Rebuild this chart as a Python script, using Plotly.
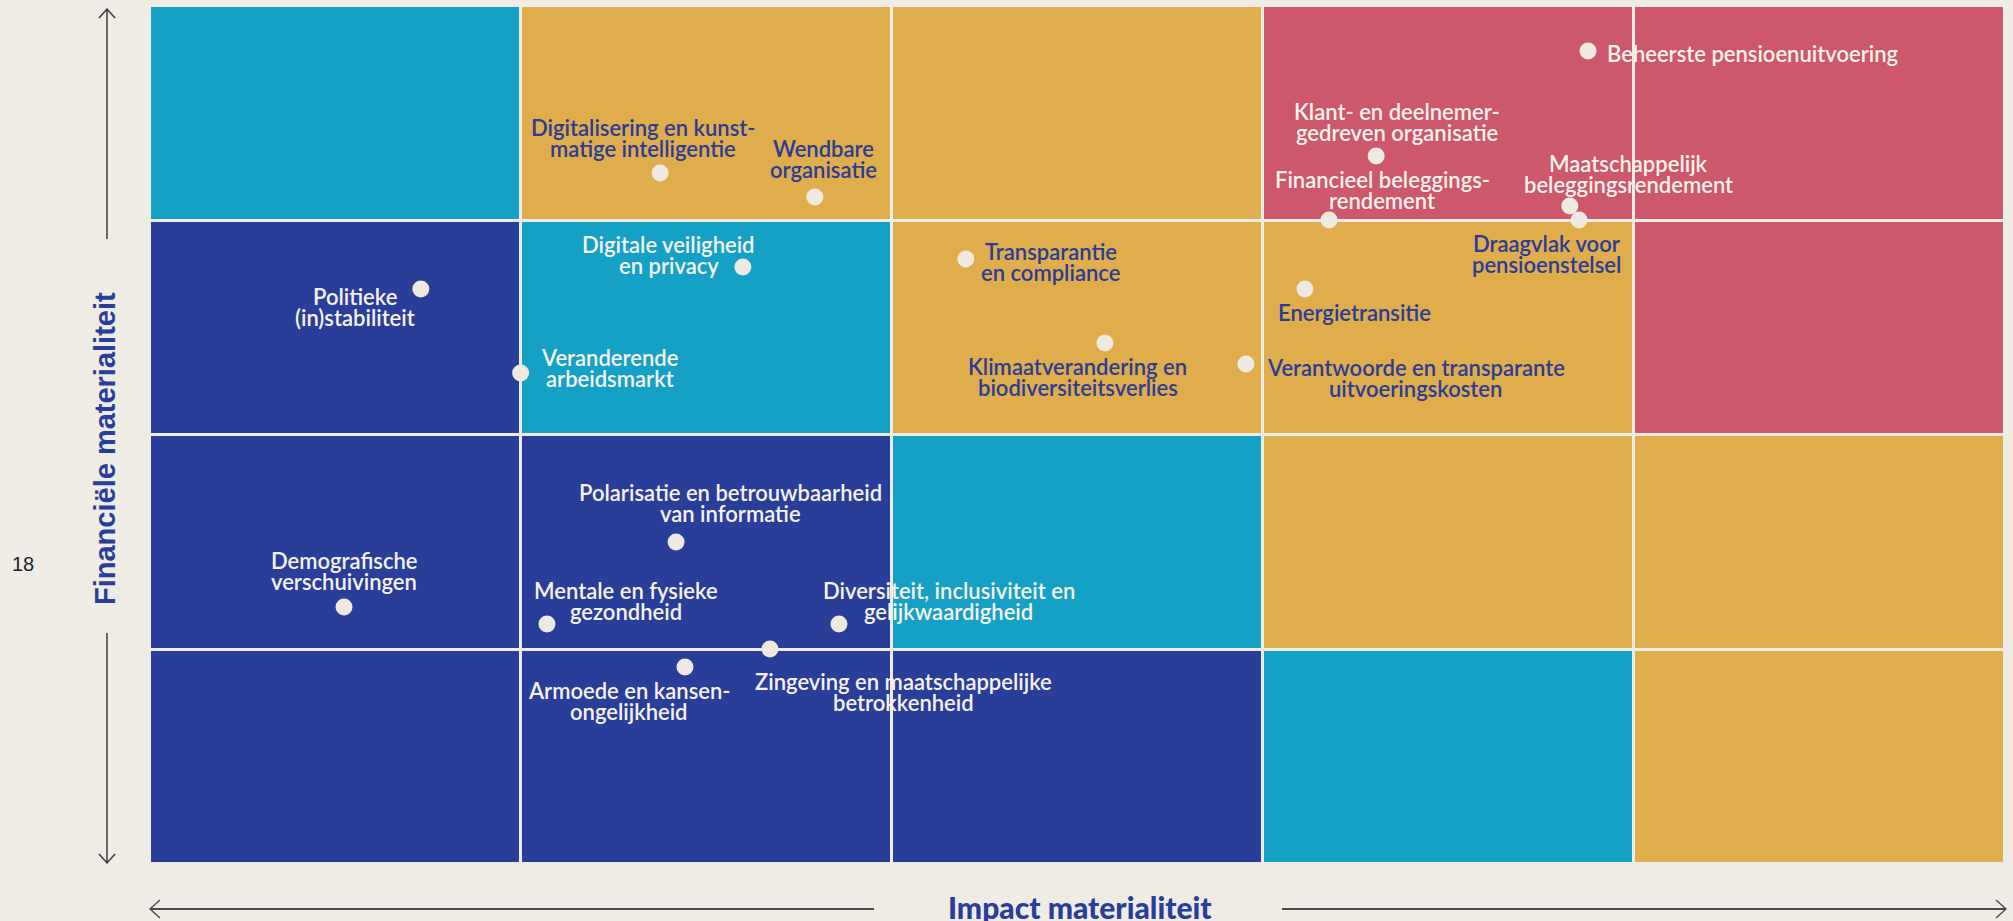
import plotly.graph_objects as go

W, H = 2013, 921
ML, MR, MT, MB = 150, 8, 6, 57

NAVY = "#283E98"
TEAL = "#15A1C5"
GOLD = "#DFAD4C"
RED = "#CD576B"
BG = "#EFECE6"
TXT_LIGHT = "#F6F2EB"
TXT_DARK = "#2A3C96"

# matrix cells (0 navy, 1 teal, 2 gold, 3 red), bottom row first
impact_cols = [0.5, 1.5, 2.5, 3.5, 4.5]
finance_rows = [0.5, 1.5, 2.5, 3.5]
cell_class = [
    [0, 0, 0, 1, 2],
    [0, 0, 1, 2, 2],
    [0, 1, 2, 2, 3],
    [1, 2, 2, 3, 3],
]

topics = [
    "Politieke\n(in)stabiliteit",
    "Veranderende\narbeidsmarkt",
    "Digitalisering en kunst-\nmatige intelligentie",
    "Wendbare\norganisatie",
    "Digitale veiligheid\nen privacy",
    "Transparantie\nen compliance",
    "Klimaatverandering en\nbiodiversiteitsverlies",
    "Verantwoorde en transparante\nuitvoeringskosten",
    "Energietransitie",
    "Financieel beleggings-\nrendement",
    "Klant- en deelnemer-\ngedreven organisatie",
    "Beheerste pensioenuitvoering",
    "Maatschappelijk\nbeleggingsrendement",
    "Draagvlak voor\npensioenstelsel",
    "Demografische\nverschuivingen",
    "Polarisatie en betrouwbaarheid\nvan informatie",
    "Mentale en fysieke\ngezondheid",
    "Diversiteit, inclusiviteit en\ngelijkwaardigheid",
    "Zingeving en maatschappelijke\nbetrokkenheid",
    "Armoede en kansen-\nongelijkheid",
]
impact = [0.730, 0.999, 1.375, 1.792, 1.598, 2.199, 2.574, 2.954, 3.113, 3.178,
          3.305, 3.876, 3.827, 3.852, 0.523, 1.418, 1.070, 1.857, 1.671, 1.442]
financial = [2.681, 2.289, 3.221, 3.110, 2.783, 2.821, 2.429, 2.331, 2.681, 3.002,
             3.301, 3.790, 3.068, 3.002, 1.198, 1.501, 1.119, 1.119, 1.002, 0.918]

# label placement relative to the dot: (dx px, dy px of first line, anchor, dark text)
label_pos = [
    (-66, 8, "center", False),
    (89, -16, "center", False),
    (-17, -46, "center", True),
    (9, -48, "center", True),
    (-74, -23, "center", False),
    (85, -7, "center", True),
    (-27, 24, "center", True),
    (170, 3, "center", True),
    (50, 24, "center", True),
    (53, -41, "center", False),
    (21, -44, "center", False),
    (18, 2, "left", False),
    (59, -42, "center", False),
    (-33, 23, "center", True),
    (0, -47, "center", False),
    (54, -50, "center", False),
    (79, -33, "center", False),
    (110, -33, "center", False),
    (134, 32, "center", False),
    (-56, 23, "center", False),
]
LINE_H = 21


def px_x(p):
    return (p - ML) / (W - ML - MR)


def px_y(p):
    return (H - MB - p) / (H - MT - MB)


fig = go.Figure()
fig.add_trace(go.Heatmap(
    x=impact_cols, y=finance_rows, z=cell_class, zmin=0, zmax=3,
    colorscale=[[0, NAVY], [1 / 3, TEAL], [2 / 3, GOLD], [1, RED]],
    showscale=False, xgap=3, ygap=3, hoverinfo="skip"))
fig.add_trace(go.Scatter(
    x=impact, y=financial, mode="markers", text=[t.replace("\n", " ") for t in topics],
    hoverinfo="text", marker=dict(size=17, color="#EEEAE2", line=dict(width=0)),
    showlegend=False))

annotations = []
for t, x, y, (dx, dy, anchor, dark) in zip(topics, impact, financial, label_pos):
    for i, line in enumerate(t.split("\n")):
        annotations.append(dict(
            x=x, y=y, xref="x", yref="y", text=line, showarrow=False, borderpad=0,
            xanchor=anchor, yanchor="middle", xshift=dx, yshift=-(dy + i * LINE_H),
            font=dict(family="Lato", size=22, weight=600,
                      color=TXT_DARK if dark else TXT_LIGHT)))

annotations += [
    dict(x=px_x(1080), y=px_y(907), xref="paper", yref="paper",
         text="Impact materialiteit", showarrow=False, xanchor="center", yanchor="middle",
         font=dict(family="Lato", size=30, weight=900, color=NAVY)),
    dict(x=px_x(105), y=px_y(449), xref="paper", yref="paper", textangle=-90,
         text="Financiële materialiteit", showarrow=False, xanchor="center", yanchor="middle",
         font=dict(family="Liberation Sans", size=29, weight="bold", color=NAVY)),
    dict(x=px_x(23), y=px_y(564), xref="paper", yref="paper", text="18", showarrow=False,
         xanchor="center", yanchor="middle",
         font=dict(family="Liberation Sans", size=20, color="#222222")),
]


def seg(x0, y0, x1, y1, w, c):
    return dict(type="line", xref="paper", yref="paper", x0=px_x(x0), y0=px_y(y0),
                x1=px_x(x1), y1=px_y(y1), line=dict(color=c, width=w))


def chevron(pts, w, c):
    path = "M" + " L".join(f"{px_x(a):.5f},{px_y(b):.5f}" for a, b in pts)
    return dict(type="path", xref="paper", yref="paper", path=path,
                line=dict(color=c, width=w))


shapes = [
    seg(107, 239, 107, 9, 1.4, "#333333"),
    chevron([(99, 18), (107, 9), (115, 18)], 1.4, "#333333"),
    seg(107, 633, 107, 863, 1.4, "#333333"),
    chevron([(99, 854), (107, 863), (115, 854)], 1.4, "#333333"),
    seg(150, 909, 874, 909, 2, "#4a4a4a"),
    chevron([(160, 900), (150, 909), (160, 918)], 1.4, "#4a4a4a"),
    seg(1282, 909, 2006, 909, 2, "#4a4a4a"),
    chevron([(1996, 900), (2006, 909), (1996, 918)], 1.4, "#4a4a4a"),
]

fig.update_layout(
    width=W, height=H, margin=dict(l=ML, r=MR, t=MT, b=MB),
    paper_bgcolor=BG, plot_bgcolor=BG, showlegend=False,
    xaxis=dict(range=[0, 5], visible=False, fixedrange=True),
    yaxis=dict(range=[0, 4], visible=False, fixedrange=True),
    annotations=annotations, shapes=shapes,
)

fig.write_html("out.html", config={"displayModeBar": False},
               post_script="document.body.style.margin='0';"
                           "document.body.style.overflow='hidden';"
                           "document.body.style.background='#EFECE6';")
